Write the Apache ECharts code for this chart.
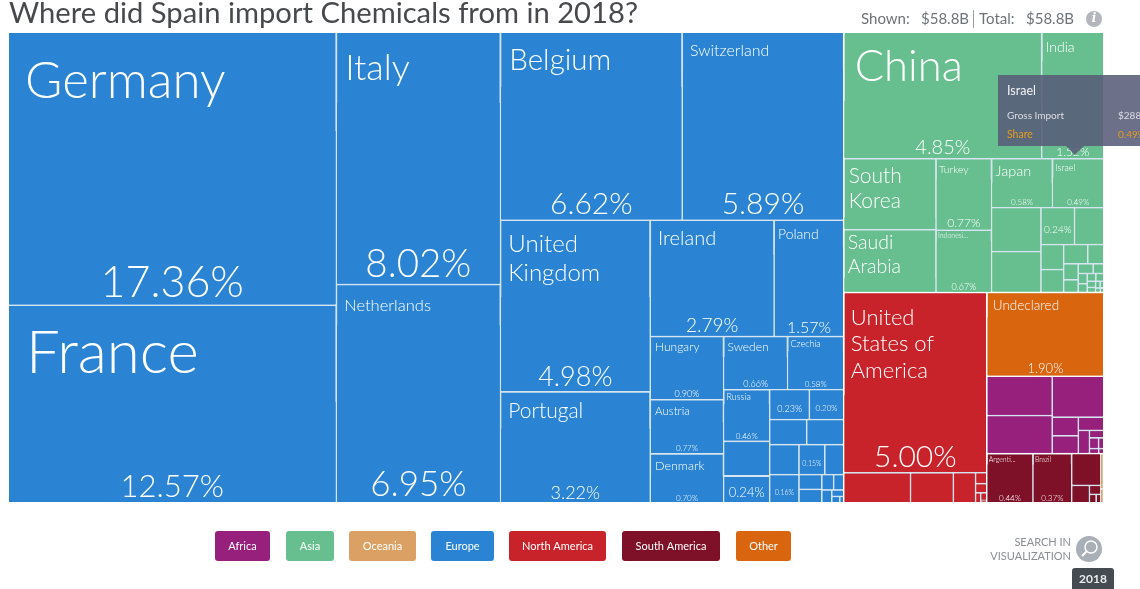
<!DOCTYPE html>
<html>
<head>
<meta charset="utf-8">
<title>Spain chemical imports 2018</title>
<script src="https://cdn.jsdelivr.net/npm/echarts@6/dist/echarts.min.js"></script>
<style>
  html, body { margin: 0; padding: 0; background: #fff; overflow: hidden; }
  #chart { width: 1140px; height: 589px; }
</style>
</head>
<body>
<div id="chart"></div>
<script>
// share of total imports (%); '' = cell has no readable name
const europeNames = ["Germany", "France", "Italy", "Netherlands", "Belgium", "Switzerland", "United\nKingdom", "Portugal", "Ireland", "Poland", "Hungary", "Austria", "Denmark", "Sweden", "Czechia", "Russia", "", "", "", "", "", "", "", "", "", "", "", "", "", "", "", "", "", ""];
const europeValues = [17.36, 12.57, 8.02, 6.95, 6.62, 5.89, 4.98, 3.22, 2.79, 1.57, 0.90, 0.77, 0.70, 0.66, 0.58, 0.46, 0.31, 0.24, 0.23, 0.20, 0.18, 0.18, 0.17, 0.16, 0.15, 0.11, 0.065, 0.06, 0.035, 0.03, 0.025, 0.015, 0.01, 0.005];
const asiaNames = ["China", "India", "South\nKorea", "Saudi\nArabia", "Turkey", "Indonesi...", "Japan", "Israel", "", "", "", "", "", "", "", "", "", "", "", "", "", "", "", "", "", "", "", "", "", ""];
const asiaValues = [4.85, 1.52, 1.27, 1.12, 0.77, 0.67, 0.58, 0.49, 0.42, 0.39, 0.24, 0.21, 0.11, 0.10, 0.09, 0.06, 0.045, 0.035, 0.028, 0.02, 0.018, 0.015, 0.013, 0.012, 0.010, 0.008, 0.006, 0.005, 0.004, 0.003];
const northAmericaNames = ["United\nStates of\nAmerica", "", "", "", "", "", "", "", ""];
const northAmericaValues = [5.00, 0.39, 0.25, 0.13, 0.024, 0.02, 0.01, 0.009, 0.003];
const otherNames = ["Undeclared"];
const otherValues = [1.90];
const africaNames = ["", "", "", "", "", "", "", "", "", "", "", ""];
const africaValues = [0.50, 0.48, 0.41, 0.095, 0.09, 0.066, 0.05, 0.021, 0.019, 0.011, 0.009, 0.005];
const southAmericaNames = ["Argenti...", "Brazil", "", "", "", "", ""];
const southAmericaValues = [0.44, 0.37, 0.18, 0.06, 0.02, 0.011, 0.008];
const oceaniaNames = ["", ""];
const oceaniaValues = [0.02, 0.008];

// unnamed cells that still carry a percent label, with the font size of that label
const barePercents = { Europe: [0.24, 0.23, 0.20, 0.16, 0.15], Asia: [0.24] };
const barePercentSizes = { Europe: [13, 9, 8, 7, 7], Asia: [10] };

const legendLabels = ["Africa", "Asia", "Oceania", "Europe", "North America", "South America", "Other"];
const legendColors = ["#97207c", "#67bf8f", "#dba063", "#2a84d3", "#c8232b", "#7e1028", "#d9650f"];

const FONT = "Lato, 'Noto Sans', sans-serif";

// font size of name, height of name strip, font size of percent, left padding of name
const labelSizes = {
  "Germany": [51, 98, 43, 16], "France": [60, 96, 31, 17], "Italy": [36, 70, 38.5, 8], "Netherlands": [16.5, 40, 35, 7],
  "Belgium": [29.5, 54, 30, 8], "Switzerland": [16, 36, 30, 7], "United\nKingdom": [24, 76, 27, 7], "Portugal": [21, 36, 18, 7],
  "Ireland": [20, 34, 19, 7], "Poland": [14, 26, 16, 3], "Hungary": [12, 20, 9, 4], "Austria": [11.5, 22, 8, 4],
  "Denmark": [12.5, 22, 8, 4], "Sweden": [12, 20, 9, 3], "Czechia": [9, 14, 8, 2], "Russia": [9, 14, 8, 2],
  "China": [43.5, 68, 20, 10], "India": [14, 28, 12, 3], "South\nKorea": [21, 58, 11, 4], "Saudi\nArabia": [19.5, 48, 10, 3],
  "Turkey": [10.5, 20, 12, 2], "Indonesi...": [7, 10, 9, 1], "Japan": [14.5, 24, 8, 3], "Israel": [9, 18, 8, 2],
  "United\nStates of\nAmerica": [22, 102, 30, 6], "Undeclared": [13.5, 24, 13, 5], "Argenti...": [7, 10, 8, 1], "Brazil": [7, 10, 8, 1]
};

function percentLabel(value, size, middle) {
  return {
    show: true,
    formatter: value.toFixed(2) + "%",
    position: ["50%", middle ? "50%" : "100%"],
    align: "center",
    verticalAlign: "top",
    overflow: "none",
    offset: [0, middle ? -size * 0.6 : -(size + 5)],
    fontSize: size,
    fontFamily: FONT,
    fontWeight: 300,
    color: "#fff"
  };
}

function bareLeaf(continent, value, color) {
  const at = (barePercents[continent] || []).indexOf(value);
  return {
    name: "",
    value: value,
    itemStyle: { color: color, borderColor: color, borderWidth: 0 },
    label: at >= 0 ? percentLabel(value, barePercentSizes[continent][at], true) : { show: false }
  };
}

function buildContinent(continent, names, values, color) {
  const children = names.map(function (name, i) {
    if (!name) return bareLeaf(continent, values[i], color);
    const sizes = labelSizes[name];
    return {
      name: name,
      value: values[i],
      itemStyle: { borderColor: color, borderWidth: 0, gapWidth: 0 },
      upperLabel: {
        show: true,
        height: sizes[1],
        fontSize: sizes[0],
        fontFamily: FONT,
        fontWeight: 300,
        lineHeight: sizes[0] * 1.2,
        color: "#fff",
        overflow: "none",
        padding: [0, 0, 0, sizes[3]]
      },
      children: [{
        name: name + " share",
        value: values[i],
        itemStyle: { color: color, borderColor: color, borderWidth: 0 },
        label: percentLabel(values[i], sizes[2], false)
      }]
    };
  });
  return {
    name: continent,
    itemStyle: { borderColor: "#d5e4ef", borderWidth: 0, gapWidth: 1.8 },
    upperLabel: { show: false },
    children: children
  };
}

const treeData = [
  buildContinent("Europe", europeNames, europeValues, "#2a84d3"),
  buildContinent("Asia", asiaNames, asiaValues, "#67bf8f"),
  buildContinent("North America", northAmericaNames, northAmericaValues, "#c8232b"),
  buildContinent("Other", otherNames, otherValues, "#d9650f"),
  buildContinent("Africa", africaNames, africaValues, "#97207c"),
  buildContinent("South America", southAmericaNames, southAmericaValues, "#7e1028"),
  buildContinent("Oceania", oceaniaNames, oceaniaValues, "#dba063")
];

function legendItems() {
  const xs = [215, 286, 349, 431, 509, 622, 736];
  const ws = [55, 48, 67, 63, 97, 98, 55];
  const out = [];
  legendLabels.forEach(function (label, i) {
    out.push({
      type: "rect",
      shape: { x: xs[i], y: 531, width: ws[i], height: 30, r: 3 },
      style: { fill: legendColors[i] }
    });
    out.push({
      type: "text",
      style: {
        x: xs[i] + ws[i] / 2, y: 546, text: label, fill: "#fff", font: "11px " + FONT,
        textAlign: "center", textVerticalAlign: "middle"
      }
    });
  });
  return out;
}

function plainText(x, y, text, font, fill, align) {
  return {
    type: "text",
    z: 20,
    style: { x: x, y: y, text: text, font: font, fill: fill, textAlign: align || "left", textVerticalAlign: "middle" }
  };
}

const chart = echarts.init(document.getElementById("chart"));

chart.setOption({
  animation: false,
  tooltip: { show: false },
  series: [{
    type: "treemap",
    left: 9,
    top: 33,
    width: 1094,
    height: 469,
    squareRatio: 1,
    roam: false,
    nodeClick: false,
    silent: true,
    visibleMin: 0,
    breadcrumb: { show: false },
    label: { show: false },
    upperLabel: { show: false },
    itemStyle: { borderWidth: 0, gapWidth: 0 },
    levels: [
      { itemStyle: { borderWidth: 0, gapWidth: 1.8, borderColor: "#fff" } }
    ],
    data: treeData
  }],
  graphic: legendItems().concat([
    plainText(9, 14, "Where did Spain import Chemicals from in 2018?", "29.2px " + FONT, "#47494d"),
    plainText(861, 19, "Shown:", "15px " + FONT, "#6f7378"),
    plainText(921, 19, "$58.8B", "15px " + FONT, "#6f7378"),
    { type: "rect", shape: { x: 973, y: 10, width: 1, height: 18 }, style: { fill: "#9a9da1" } },
    plainText(979, 19, "Total:", "15px " + FONT, "#6f7378"),
    plainText(1026, 19, "$58.8B", "15px " + FONT, "#6f7378"),
    { type: "circle", shape: { cx: 1094, cy: 19, r: 8 }, style: { fill: "#b3b7bd" } },
    plainText(1094, 19, "i", "italic bold 12px 'DejaVu Serif', serif", "#fff", "center"),

    plainText(1071, 542, "SEARCH IN", "11px " + FONT, "#8b8f93", "right"),
    plainText(1071, 556, "VISUALIZATION", "11px " + FONT, "#8b8f93", "right"),
    { type: "circle", shape: { cx: 1089, cy: 549, r: 13 }, style: { fill: "#a9afb6" } },
    { type: "circle", shape: { cx: 1091, cy: 547, r: 6 }, style: { fill: "none", stroke: "#fff", lineWidth: 1.5 } },
    { type: "line", shape: { x1: 1087, y1: 551, x2: 1082, y2: 556 }, style: { stroke: "#fff", lineWidth: 2 } },
    { type: "rect", shape: { x: 1072, y: 568, width: 42, height: 24, r: 3 }, style: { fill: "#444c52" } },
    plainText(1093, 579, "2018", "bold 12px " + FONT, "#e8eaec", "center"),

    { type: "polygon", z: 19, shape: { points: [[998, 75], [1140, 75], [1140, 146], [1084, 146], [1075, 155], [1066, 146], [998, 146]] }, style: { fill: "rgba(89,92,121,0.88)" } },
    plainText(1007, 91, "Israel", "12.5px " + FONT, "#f2f2f5"),
    plainText(1007, 116, "Gross Import", "10px " + FONT, "#dcdde3"),
    plainText(1118, 116, "$288M", "10px " + FONT, "#dcdde3"),
    plainText(1007, 135, "Share", "10.5px " + FONT, "#e69c1c"),
    plainText(1118, 135, "0.49%", "10px " + FONT, "#e69c1c")
  ])
});

window.addEventListener("resize", function () {
  chart.resize();
});
</script>
</body>
</html>
